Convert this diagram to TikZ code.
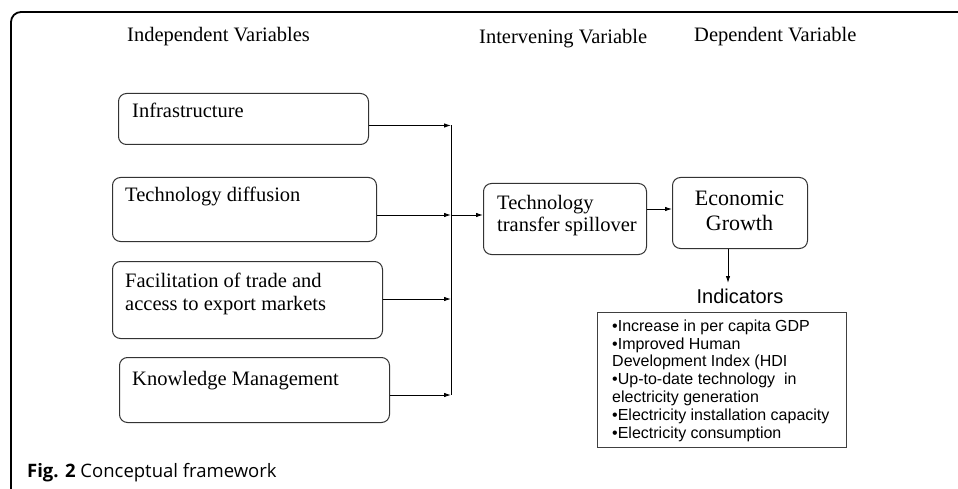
\documentclass[tikz,border=0pt]{standalone}
\usepackage{fontspec}
\setmainfont{Liberation Serif}
\newfontfamily\arialf{Liberation Sans}
\newfontfamily\capf{Open Sans}
\usetikzlibrary{arrows.meta}
\begin{document}
\begin{tikzpicture}[x=1pt,y=-1pt,
  rbox/.style={draw=black!80, line width=1pt, rounded corners=8pt, anchor=north west, inner sep=0pt},
  sbox/.style={draw=black!75, line width=1pt, anchor=north west, inner sep=0pt},
  txt/.style={anchor=base west, inner sep=0pt, font=\fontsize{20.5}{23}\selectfont},
  arr/.style={line width=0.9pt, -{Latex[length=7pt,width=4.5pt]}},
  ln/.style={line width=0.9pt}]
\useasboundingbox (0,0) rectangle (958,489);
\fill[white] (0,0) rectangle (958,489);
% frame
\draw[line width=1.8pt, rounded corners=10pt] (11,492) -- (11,12) -- (962,12);
% headers
\node[txt] (h1) at (127,42) {Independent Variables};
\node[txt] (h2) at (479,44) {Intervening Variable};
\node[txt] (h3) at (694,42) {Dependent Variable};
% left boxes
\node[rbox, minimum width=250pt, minimum height=51pt] (inf) at (118,93) {};
\node[txt] (inft) at (132,118) {Infrastructure};
\node[rbox, minimum width=264pt, minimum height=64pt] (td) at (112,177) {};
\node[txt] (tdt) at (125,202) {Technology diffusion};
\node[rbox, minimum width=270pt, minimum height=77pt] (fa) at (112,261) {};
\node[txt] (fat1) at (125,287) {Facilitation of trade and};
\node[txt] (fat2) at (125,310) {access to export markets};
\node[rbox, minimum width=270pt, minimum height=65pt] (km) at (119,357) {};
\node[txt] (kmt) at (132,385) {Knowledge Management};
% middle
\node[rbox, minimum width=163pt, minimum height=71pt] (tt) at (483,183) {};
\node[txt] (ttt1) at (497,209) {Technology};
\node[txt] (ttt2) at (497,232) {transfer spillover};
\node[rbox, minimum width=135pt, minimum height=71pt] (eg) at (672,177) {};
\node[anchor=base, inner sep=0pt, font=\fontsize{22}{24}\selectfont] (egt1) at (739.5,205) {Economic};
\node[anchor=base, inner sep=0pt, font=\fontsize{22}{24}\selectfont] (egt2) at (739.5,230) {Growth};
% indicators
\node[anchor=base, inner sep=0pt, font=\arialf\fontsize{20}{23}\selectfont] (ind) at (740,303) {Indicators};
\node[sbox, minimum width=249pt, minimum height=135pt] (ib) at (597,312) {};
\node[anchor=north west, inner sep=0pt, align=left, font=\arialf\fontsize{16}{17.8}\selectfont] (il) at (612,319.5)
 {•Increase in per capita GDP\\•Improved Human\\Development Index (HDI\\•Up-to-date technology\ \ in\\electricity generation\\•Electricity installation capacity\\•Electricity consumption};
% caption
\node[anchor=base west, inner sep=0pt, font=\capf\fontsize{18.5}{21}\selectfont] (cap) at (27,477) {\textbf{Fig. 2} Conceptual framework};
% connectors
\coordinate (b1) at (451,125.5);
\coordinate (b2) at (451,215);
\coordinate (b3) at (451,299);
\coordinate (b4) at (451,395);
\coordinate (c1) at (660,209);
\coordinate (d1) at (728,283);
\draw[ln] (b1) -- (b4);
\draw[arr] (inf.east |- b1) -- (b1);
\draw[arr] (td.east |- b2) -- (b2);
\draw[arr] (fa.east |- b3) -- (b3);
\draw[arr] (km.east |- b4) -- (b4);
\draw[arr] (b2) -- (tt.west |- b2);
\draw[arr] (tt.east |- c1) -- (eg.west |- c1);
\draw[arr] (eg.south -| d1) -- (d1);
\end{tikzpicture}
\end{document}
